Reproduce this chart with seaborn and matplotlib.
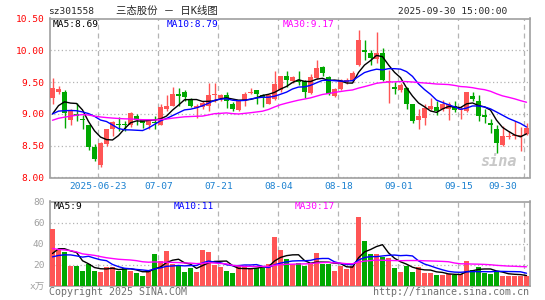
import numpy as np
import pandas as pd
import matplotlib
matplotlib.use("Agg")
import matplotlib.pyplot as plt
import matplotlib.transforms as mtransforms
import seaborn as sns

# 三态股份 sz301558, daily candles 2025-06-11 .. 2025-09-30 (80 sessions)
opens = [9.25, 9.34, 9.35, 8.91, 9.00, 8.92, 8.82, 8.48, 8.19, 8.52,
         8.76, 8.84, 8.83, 8.82, 8.97, 8.91, 8.82, 8.87, 8.83, 9.08,
         9.13, 9.32, 9.35, 9.22, 9.09, 9.11, 9.12, 9.30, 9.25, 9.29,
         9.16, 9.06, 9.20, 9.33, 9.37, 9.30, 9.16, 9.23, 9.38, 9.60,
         9.51, 9.54, 9.51, 9.33, 9.56, 9.73, 9.58, 9.28, 9.39, 9.50,
         9.51, 9.77, 10.01, 9.95, 9.86, 9.95, 9.50, 9.43, 9.38, 9.41,
         9.15, 8.90, 8.94, 9.08, 9.11, 9.08, 9.08, 9.13, 9.06, 9.04,
         9.28, 9.21, 8.99, 8.85, 8.77, 8.51, 8.64, 8.66, 8.66, 8.68]
highs = [9.56, 9.44, 9.37, 9.08, 9.17, 8.99, 8.83, 8.52, 8.56, 8.77,
         8.89, 8.95, 8.89, 9.03, 9.00, 8.92, 8.91, 8.97, 9.15, 9.29,
         9.43, 9.41, 9.37, 9.25, 9.15, 9.20, 9.48, 9.49, 9.31, 9.35,
         9.18, 9.22, 9.34, 9.41, 9.38, 9.32, 9.30, 9.67, 9.60, 9.67,
         9.60, 9.67, 9.54, 9.62, 9.85, 9.76, 9.60, 9.41, 9.55, 9.56,
         9.67, 10.32, 10.16, 10.01, 10.28, 10.03, 9.69, 9.50, 9.48, 9.43,
         9.16, 9.08, 9.16, 9.25, 9.20, 9.22, 9.18, 9.20, 9.13, 9.35,
         9.34, 9.30, 9.07, 8.92, 8.82, 8.81, 8.73, 8.89, 8.80, 8.86]
lows = [9.15, 9.32, 8.78, 8.82, 8.89, 8.76, 8.43, 8.26, 8.17, 8.50,
        8.65, 8.73, 8.73, 8.79, 8.82, 8.78, 8.77, 8.76, 8.82, 9.04,
        9.12, 9.13, 9.20, 9.11, 8.94, 9.08, 9.04, 9.18, 9.20, 9.09,
        9.04, 9.04, 9.12, 9.32, 9.15, 9.11, 9.15, 9.22, 9.35, 9.43,
        9.48, 9.46, 9.25, 9.32, 9.55, 9.59, 9.30, 9.27, 9.38, 9.47,
        9.50, 9.75, 9.85, 9.77, 9.80, 9.51, 9.17, 9.32, 9.35, 9.08,
        8.85, 8.77, 8.82, 9.06, 8.99, 9.04, 8.91, 9.03, 8.92, 9.03,
        9.20, 8.89, 8.86, 8.70, 8.38, 8.50, 8.60, 8.60, 8.42, 8.67]
closes = [9.41, 9.39, 9.02, 9.04, 8.96, 8.90, 8.48, 8.29, 8.55, 8.76,
          8.87, 8.83, 8.82, 9.02, 8.91, 8.85, 8.89, 8.85, 9.11, 9.13,
          9.32, 9.28, 9.27, 9.13, 9.13, 9.17, 9.29, 9.31, 9.29, 9.20,
          9.08, 9.20, 9.32, 9.34, 9.32, 9.27, 9.29, 9.47, 9.60, 9.53,
          9.58, 9.50, 9.35, 9.58, 9.72, 9.65, 9.32, 9.39, 9.53, 9.54,
          9.64, 10.16, 9.97, 9.88, 9.95, 9.54, 9.51, 9.39, 9.46, 9.15,
          8.89, 8.97, 9.09, 9.13, 9.04, 9.16, 9.16, 9.06, 9.07, 9.34,
          9.23, 8.96, 8.95, 8.82, 8.55, 8.66, 8.65, 8.67, 8.67, 8.78]
volumes = [53.5, 35.0, 31.8, 18.6, 18.6, 13.9, 20.5, 13.9, 12.9, 17.6,
           17.6, 13.9, 16.7, 13.9, 12.0, 9.1, 13.9, 29.9, 23.3, 32.8,
           20.5, 18.6, 12.9, 16.7, 12.9, 33.7, 31.8, 19.5, 17.6, 13.9,
           12.0, 18.6, 18.6, 16.7, 16.7, 16.7, 20.5, 46.0, 33.7, 25.2,
           20.5, 21.0, 18.6, 20.5, 30.9, 20.5, 20.5, 13.9, 18.6, 15.7,
           18.6, 64.9, 42.2, 29.9, 29.9, 27.4, 26.1, 16.7, 12.9, 18.6,
           12.9, 18.0, 12.0, 12.0, 10.1, 10.1, 11.0, 10.1, 11.0, 23.3,
           14.8, 17.6, 12.0, 11.0, 13.9, 9.5, 9.5, 9.5, 9.5, 9.5]

# sessions before the window (not drawn), estimated from where the MA lines start
pre_closes = [8.45, 8.50, 8.55, 8.52, 8.59, 8.70, 8.82, 8.95, 9.05, 9.10,
              9.02, 8.98, 9.08, 9.12, 9.00, 8.92, 8.95, 8.90, 8.88, 8.92,
              8.95, 8.96, 9.00, 9.00, 9.09, 8.74, 8.72, 9.14, 8.99]
pre_volumes = [62, 45, 38, 55, 70, 42, 36, 48, 50, 39.4,
               35, 28, 24, 31, 40, 27, 22, 30, 33, 27.6,
               22, 26, 19, 28, 25.5, 12.5, 31.8, 28.6, 26.1]

tick_labels = ["2025-06-23", "07-07", "07-21", "08-04", "08-18", "09-01", "09-15", "09-30"]
tick_sessions = [8, 18, 28, 38, 48, 58, 68, 79]

RED = "#ff5555"
GREEN = "#00a800"
GRID = "#b4b4b4"
FRAME = "#a0a0a0"

n = len(closes)
x = np.arange(n)
o = np.array(opens); h = np.array(highs); l = np.array(lows); c = np.array(closes)
up = c >= o
col = np.where(up, RED, GREEN)

all_c = pd.Series(pre_closes + closes)
all_v = pd.Series(pre_volumes + volumes)
k = len(pre_closes)
ma = {w: all_c.rolling(w).mean().to_numpy()[k:] for w in (5, 10, 30)}
vma = {w: all_v.rolling(w).mean().to_numpy()[k:] for w in (5, 10, 30)}

sns.set_theme(style="white")
plt.rcParams["font.family"] = ["DejaVu Sans Mono", "Noto Sans CJK SC"]

fig = plt.figure(figsize=(5.45, 3.0), dpi=100)
ax = fig.add_axes([50 / 545, 1 - 177.5 / 300, 479.5 / 545, 159 / 300])
axv = fig.add_axes([50 / 545, 1 - 285.5 / 300, 479.5 / 545, 84 / 300])

tick_pos = np.array(tick_sessions) - 0.37

# price panel
ax.vlines(x, l, h, colors=col, lw=1, zorder=3)
body_lo = np.minimum(o, c)
body_h = np.maximum(np.abs(c - o), 0.014)
ax.bar(x, body_h, bottom=body_lo, width=0.78, color=col, linewidth=0, zorder=3)
sns.lineplot(x=x, y=ma[5], color="black", lw=1, ax=ax, zorder=4)
sns.lineplot(x=x, y=ma[10], color="blue", lw=1, ax=ax, zorder=4)
sns.lineplot(x=x, y=ma[30], color="#ff00ff", lw=1, ax=ax, zorder=4)

# volume panel
vdf = pd.DataFrame({"i": x, "vol": volumes, "dir": np.where(up, "up", "down")})
sns.barplot(data=vdf, x="i", y="vol", hue="dir", palette={"up": RED, "down": GREEN},
            native_scale=True, dodge=False, width=0.83, saturation=1,
            errorbar=None, legend=False, linewidth=0, ax=axv, zorder=3)
sns.lineplot(x=x, y=vma[5], color="black", lw=1, ax=axv, zorder=4)
sns.lineplot(x=x, y=vma[10], color="blue", lw=1, ax=axv, zorder=4)
sns.lineplot(x=x, y=vma[30], color="#ff00ff", lw=1, ax=axv, zorder=4)

for a in (ax, axv):
    a.set_xlim(-0.42, 79.5)
    a.set_xlabel("")
    a.set_ylabel("")
    a.set_xticks(tick_pos)
    a.set_axisbelow(True)
    a.xaxis.grid(True, color=GRID, ls=(0, (4, 3)), lw=0.9)
    a.yaxis.grid(True, color=GRID, ls=(0, (1, 2)), lw=0.9)
    for s in a.spines.values():
        s.set_color(FRAME)
        s.set_linewidth(1.2)
    a.tick_params(length=0, labelsize=6.8)

ax.set_ylim(8.0, 10.5)
ax.set_yticks(np.arange(8.0, 10.51, 0.5))
ax.set_yticklabels([f"{v:.2f}" for v in np.arange(8.0, 10.51, 0.5)])
ax.tick_params(axis="y", labelcolor="red", pad=4)
ax.set_xticklabels(tick_labels)
ax.tick_params(axis="x", labelcolor="#1a80d0", pad=3)
last = ax.get_xticklabels()[-1]
last.set_ha("right")
last.set_transform(last.get_transform() + mtransforms.ScaledTranslation(-7.5 / 100, 0, fig.dpi_scale_trans))

axv.set_ylim(0, 80)
axv.set_yticks([0, 20, 40, 60, 80])
axv.set_yticklabels(["x万", "20", "40", "60", "80"])
axv.tick_params(axis="y", labelcolor="#a0a0a0", pad=4)
axv.set_xticklabels([])

# MA legends
ax.text(0.005, 0.962, "MA5:8.69", transform=ax.transAxes, color="black", size=6.8, va="center")
ax.text(0.244, 0.962, "MA10:8.79", transform=ax.transAxes, color="blue", size=6.8, va="center")
ax.text(0.486, 0.962, "MA30:9.17", transform=ax.transAxes, color="#ff00ff", size=6.8, va="center")
axv.text(0.008, 0.945, "MA5:9", transform=axv.transAxes, color="black", size=6.8, va="center")
axv.text(0.258, 0.945, "MA10:11", transform=axv.transAxes, color="blue", size=6.8, va="center")
axv.text(0.511, 0.945, "MA30:17", transform=axv.transAxes, color="#ff00ff", size=6.8, va="center")

# watermark
ax.text(0.935, 0.10, "sina", transform=ax.transAxes, color="#c8c8c8", size=11,
        style="italic", weight="bold", ha="center", va="center", zorder=2)

# header / footer
fig.text(48 / 545, 1 - 11 / 300, "sz301558", size=6.8, va="center", ha="left")
fig.text(116 / 545, 1 - 11 / 300, "三态股份 － 日K线图", size=7.5, va="center", ha="left")
fig.text(507 / 545, 1 - 11 / 300, "2025-09-30 15:00:00", size=6.8, va="center", ha="right")
fig.text(49 / 545, 1 - 292 / 300, "Copyright 2025 SINA.COM", size=7.2, color="#707070", va="center", ha="left")
fig.text(529 / 545, 1 - 292 / 300, "http://finance.sina.com.cn", size=7.2, color="#707070", va="center", ha="right")

fig.savefig("out.png", dpi=100)
